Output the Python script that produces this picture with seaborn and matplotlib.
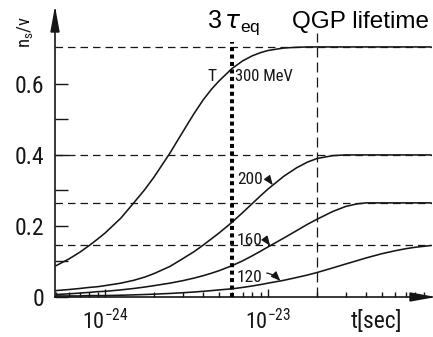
import numpy as np
import pandas as pd
import seaborn as sns
import matplotlib
matplotlib.use("Agg")
import matplotlib.pyplot as plt
from matplotlib import font_manager
from matplotlib.patches import Polygon
from matplotlib.ticker import FixedLocator, LogLocator, NullFormatter

# ---- data -------------------------------------------------------------
t_sec = [5e-25, 6e-25, 7e-25, 8e-25, 9e-25,
         1e-24, 1.25e-24, 1.5e-24, 1.75e-24, 2e-24, 2.5e-24, 3e-24, 3.5e-24,
         4e-24, 4.5e-24, 5e-24, 6e-24, 7e-24, 8e-24, 9e-24,
         1e-23, 1.25e-23, 1.5e-23, 1.75e-23, 2e-23, 2.5e-23, 3e-23, 3.5e-23,
         4e-23, 5e-23, 6e-23, 7e-23, 8e-23, 1e-22]

temperatures = ["300", "200", "160", "120"]  # MeV

ns_300 = [0.088, 0.107, 0.126, 0.145, 0.163,
          0.180, 0.222, 0.265, 0.302, 0.338, 0.405, 0.465, 0.515,
          0.555, 0.585, 0.608, 0.643, 0.665, 0.679, 0.688,
          0.694, 0.701, 0.703, 0.704, 0.704, 0.704, 0.704, 0.704,
          0.704, 0.704, 0.704, 0.704, 0.704, 0.704]
ns_200 = [0.018, 0.021, 0.024, 0.027, 0.029,
          0.032, 0.039, 0.047, 0.056, 0.066, 0.086, 0.108, 0.127,
          0.146, 0.164, 0.180, 0.210, 0.238, 0.263, 0.285,
          0.304, 0.340, 0.364, 0.380, 0.390, 0.398, 0.400, 0.400,
          0.400, 0.400, 0.400, 0.400, 0.400, 0.400]
ns_160 = [0.007, 0.009, 0.011, 0.013, 0.015,
          0.016, 0.020, 0.024, 0.028, 0.032, 0.039, 0.046, 0.053,
          0.060, 0.067, 0.074, 0.088, 0.102, 0.116, 0.129,
          0.141, 0.166, 0.187, 0.205, 0.219, 0.241, 0.255, 0.262,
          0.265, 0.265, 0.265, 0.265, 0.265, 0.265]
ns_120 = [0.003, 0.003, 0.003, 0.004, 0.004,
          0.004, 0.005, 0.006, 0.007, 0.008, 0.010, 0.012, 0.014,
          0.016, 0.018, 0.020, 0.023, 0.027, 0.031, 0.035,
          0.039, 0.047, 0.055, 0.062, 0.069, 0.082, 0.093, 0.102,
          0.110, 0.122, 0.130, 0.136, 0.140, 0.145]

# equilibrium (saturation) values of n_s/v
ns_equilibrium = [0.704, 0.400, 0.265, 0.146]

tau_eq_times_3 = 6e-24      # 3 tau_eq  [s]
qgp_lifetime = 2e-23        # [s]

ytick_values = [0.0, 0.2, 0.4, 0.6]
ytick_labels = ["0", "0.2", "0.4", "0.6"]
yminor_values = [0.1, 0.3, 0.5]
xtick_values = [1e-24, 1e-23]
xtick_labels = [r"$\mathregular{10^{-24}}$", r"$\mathregular{10^{-23}}$"]

# ---- styling ------------------------------------------------------------
sns.set_theme(style="white")

# a narrow sans for the axis lettering, if one is installed
fonts = font_manager.fontManager.ttflist
names = {f.name for f in fonts}
narrow, stretch = "DejaVu Sans", "normal"
for name in ("Liberation Sans Narrow", "Roboto Condensed", "Noto Sans Condensed",
             "Open Sans Condensed", "Noto Sans SemiCondensed"):
    if name in names:
        narrow = name
        break
else:
    cond = [f for f in fonts if f.stretch in ("condensed", "semi-condensed")
            and f.style == "normal"]
    if cond:
        narrow, stretch = cond[0].name, cond[0].stretch
    else:
        extra = sorted(n for n in names if "Condensed" in n or "Narrow" in n)
        if extra:
            narrow = extra[0]
plt.rcParams["font.family"] = [narrow, "DejaVu Sans"]
plt.rcParams["font.stretch"] = stretch
INK = "#161616"

df = pd.DataFrame({
    "t": np.tile(t_sec, 4),
    "ns": np.concatenate([ns_300, ns_200, ns_160, ns_120]),
    "T": np.repeat(temperatures, len(t_sec)),
})

fig = plt.figure(figsize=(4.33, 3.37), dpi=100)
ax = fig.add_axes([55 / 433, 1 - 297 / 337, 377 / 433, 287 / 337])
ax.set_xscale("log")
ax.set_xlim(10 ** -24.307, 10 ** -21.994)
ax.set_ylim(0, 0.808)

# saturation levels
for level in ns_equilibrium:
    ax.axhline(level, color=INK, lw=0.9, dashes=(6, 4), zorder=1)

# characteristic times
ax.vlines(qgp_lifetime, 0, 0.744, color=INK, lw=0.9,
          linestyles=[(0, (8, 4))], zorder=1)
ax.vlines(tau_eq_times_3, 0, 0.718, color="black", lw=2.9,
          linestyles=[(0, (1, 0.85))], zorder=4)

sns.lineplot(data=df, x="t", y="ns", hue="T", hue_order=temperatures,
             palette={k: INK for k in temperatures}, estimator=None,
             legend=False, lw=1.15, ax=ax, zorder=3)

# axes frame with arrow heads
for side in ("top", "right"):
    ax.spines[side].set_visible(False)
for side in ("left", "bottom"):
    ax.spines[side].set_color(INK)
    ax.spines[side].set_linewidth(1.2)
ax.add_patch(Polygon([(0, 1.0), (-4 / 377, 1 - 22 / 287), (4 / 377, 1 - 22 / 287)],
                     closed=True, transform=ax.transAxes, clip_on=False,
                     color=INK, zorder=5))
ax.add_patch(Polygon([(1.0, 0), (1 - 22 / 377, 4 / 287), (1 - 22 / 377, -4 / 287)],
                     closed=True, transform=ax.transAxes, clip_on=False,
                     color=INK, zorder=5))

# ticks
ax.yaxis.set_major_locator(FixedLocator(ytick_values))
ax.set_yticklabels(ytick_labels)
ax.yaxis.set_minor_locator(FixedLocator(yminor_values))
ax.xaxis.set_major_locator(FixedLocator(xtick_values))
ax.set_xticklabels(xtick_labels)
ax.xaxis.set_minor_locator(LogLocator(base=10, subs=np.arange(2, 10)))
ax.xaxis.set_minor_formatter(NullFormatter())
ax.tick_params(axis="y", which="both", direction="in", length=9.5, width=1,
               color=INK, labelsize=17, pad=8, labelcolor=INK, left=True)
ax.tick_params(axis="x", which="major", direction="in", length=6, width=1,
               color=INK, labelsize=16, pad=9, labelcolor=INK, bottom=True)
ax.tick_params(axis="x", which="minor", direction="in", length=3.5, width=1,
               color=INK, bottom=True)

ax.set_ylabel("")
xl = ax.set_xlabel("t[sec]", fontsize=17, color=INK)
xl.set_va("center")
ax.xaxis.set_label_coords(0.852, -0.087)

ax.text(-0.08, 0.925, r"$\mathregular{n_s/v}$", rotation=90, transform=ax.transAxes,
        ha="center", va="center", fontsize=13.5, color=INK)

# curve labels
def on_curve(series, t):
    return float(np.interp(np.log10(t), np.log10(t_sec), series))

ax.text(4.28e-24, 0.62, "T", fontsize=12.5, color=INK, ha="left", va="center")
ax.text(6.27e-24, 0.62, "300 MeV", fontsize=12, color=INK, ha="left", va="center")
for label, series, t_hit, y_txt in (("200", ns_200, 1.07e-23, 0.332),
                                    ("160", ns_160, 1.03e-23, 0.160),
                                    ("120", ns_120, 1.19e-23, 0.056)):
    ax.annotate(label, xy=(t_hit, on_curve(series, t_hit)), xytext=(6.45e-24, y_txt),
                fontsize=12.5, color=INK, ha="left", va="center",
                arrowprops=dict(arrowstyle="-|>,head_length=0.45,head_width=0.18",
                                connectionstyle="arc3,rad=-0.4", color=INK,
                                lw=0.9, shrinkA=0.5, shrinkB=0))

# annotations above the plot
fig.text(234 / 433, 1 - 28 / 337, r"3$\,\tau_{\mathregular{eq}}$", fontsize=18,
         family="Liberation Sans", stretch="normal", ha="center", va="baseline",
         color="black")
fig.text(292 / 433, 1 - 28 / 337, "QGP lifetime", fontsize=17.5,
         family="Liberation Sans", stretch="normal", ha="left", va="baseline",
         color="black")

fig.savefig("out.png", dpi=100, facecolor="white")
